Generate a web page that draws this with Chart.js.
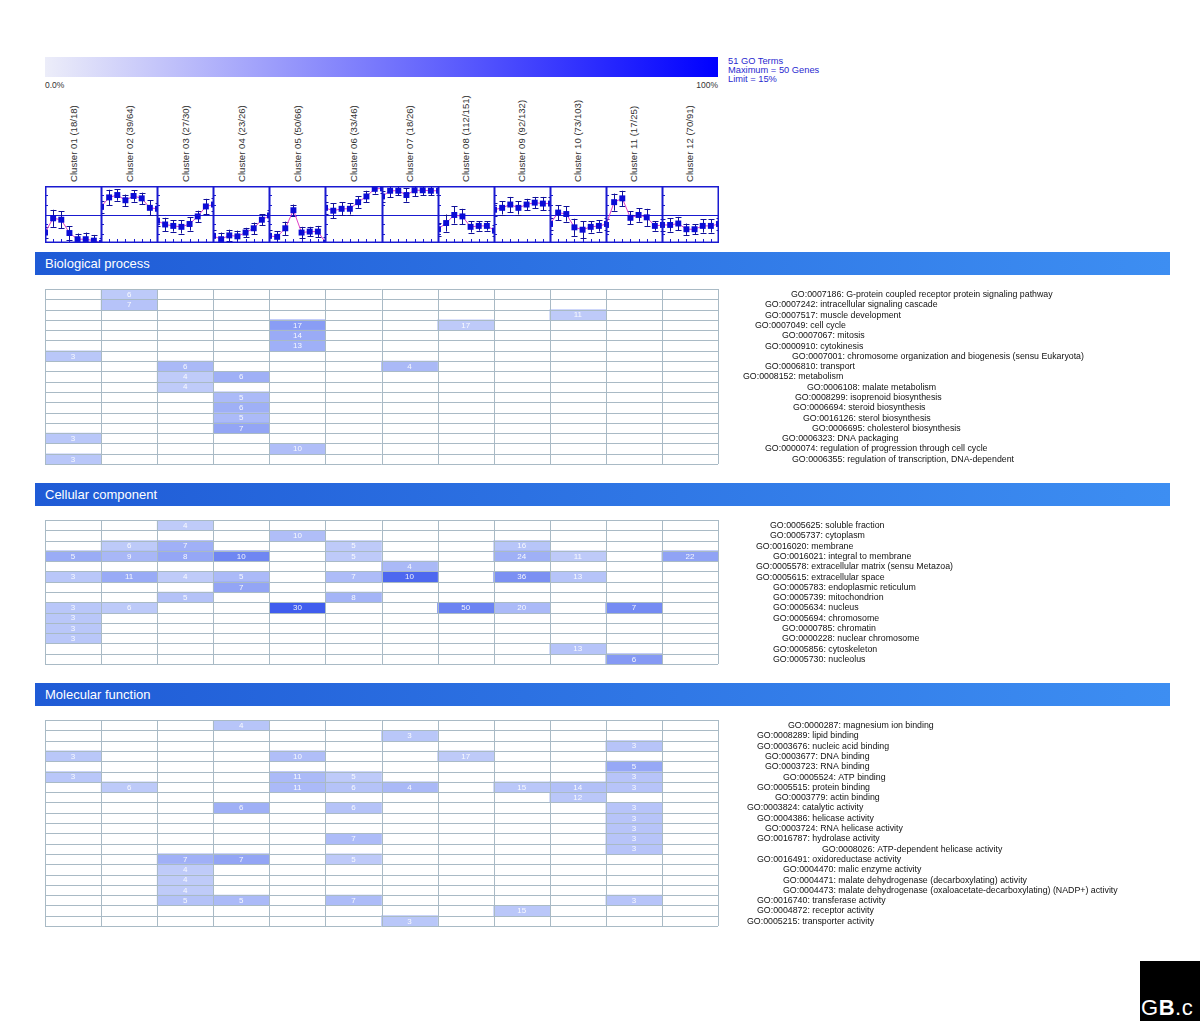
<!DOCTYPE html>
<html><head><meta charset="utf-8">
<script src="https://cdn.jsdelivr.net/npm/chart.js@4.4.1/dist/chart.umd.min.js"></script>
<style>
html,body{margin:0;padding:0;background:#fff;}
#page{position:relative;width:1200px;height:1021px;overflow:hidden;font-family:"Liberation Sans",Arial,sans-serif;background:#fff;}
#page canvas{position:absolute;}
</style></head>
<body><div id="page"></div>
<script>
// ---------------- DATA ----------------
const clusterIds = ["01","02","03","04","05","06","07","08","09","10","11","12"];
const clusterHits = [18,39,27,23,50,33,18,112,92,73,17,70];
const clusterTotals = [18,64,30,26,66,46,26,151,132,103,25,91];
const timePoints = [0,1,2,3,4,5,6,7];
const profileMeans = [
  [-1.9,-0.4,-0.55,-1.95,-2.6,-2.6,-2.75,-3.0],
  [0.8,1.8,2.05,1.5,1.95,1.7,0.7,0.6],
  [-0.65,-1.05,-1.2,-1.3,-1.0,-0.2,0.85,1.05],
  [-2.25,-2.6,-2.2,-2.3,-1.9,-1.45,-0.55,-0.1],
  [-2.25,-2.35,-1.45,0.45,-1.9,-1.8,-1.8,-3.0],
  [0.7,0.4,0.6,0.6,1.3,1.9,2.7,2.75],
  [1.9,2.5,2.5,2.05,2.55,2.55,2.5,2.5],
  [-1.55,-0.9,-0.05,-0.2,-1.3,-1.2,-1.2,-1.7],
  [0.5,0.7,1.05,0.7,1.05,1.25,1.15,1.15],
  [-1.0,0.2,0.05,-1.35,-1.6,-1.3,-1.2,-1.0],
  [-1.1,1.3,1.7,-0.35,-0.05,-0.3,-1.2,-1.1],
  [-1.1,-1.1,-0.95,-1.55,-1.55,-1.2,-1.2,-1.0]
];
const profileErrors = [
  [0.6,0.9,0.9,0.7,0.6,0.7,0.6,0.5],
  [0.6,0.8,0.6,0.6,0.6,0.6,0.8,0.6],
  [0.6,0.7,0.6,0.7,0.7,0.6,0.8,0.7],
  [0.6,0.7,0.6,0.6,0.5,0.6,0.6,0.6],
  [0.6,0.6,0.7,0.6,0.6,0.5,0.6,0.6],
  [0.6,0.8,0.7,0.6,0.6,0.6,0.5,0.5],
  [0.6,0.7,0.5,0.7,0.6,0.5,0.5,0.5],
  [0.7,0.9,0.9,0.8,0.6,0.5,0.5,0.6],
  [0.7,0.7,0.8,0.7,0.6,0.6,0.7,0.7],
  [0.6,0.8,0.8,0.9,0.9,0.6,0.6,0.6],
  [0.6,0.9,0.8,0.7,0.7,0.9,0.5,0.6],
  [0.6,0.7,0.7,0.6,0.5,0.7,0.7,0.6]
];
const legendLines = ["51 GO Terms","Maximum = 50 Genes","Limit = 15%"];
const scaleLabels = ["0.0%","100%"];
const sectionTitles = ["Biological process","Cellular component","Molecular function"];

const bpTerms = [
  "GO:0007186: G-protein coupled receptor protein signaling pathway",
  "GO:0007242: intracellular signaling cascade",
  "GO:0007517: muscle development",
  "GO:0007049: cell cycle",
  "GO:0007067: mitosis",
  "GO:0000910: cytokinesis",
  "GO:0007001: chromosome organization and biogenesis (sensu Eukaryota)",
  "GO:0006810: transport",
  "GO:0008152: metabolism",
  "GO:0006108: malate metabolism",
  "GO:0008299: isoprenoid biosynthesis",
  "GO:0006694: steroid biosynthesis",
  "GO:0016126: sterol biosynthesis",
  "GO:0006695: cholesterol biosynthesis",
  "GO:0006323: DNA packaging",
  "GO:0000074: regulation of progression through cell cycle",
  "GO:0006355: regulation of transcription, DNA-dependent"
];
const bpCounts = [
  [0,6,0,0,0,0,0,0,0,0,0,0],
  [0,7,0,0,0,0,0,0,0,0,0,0],
  [0,0,0,0,0,0,0,0,0,11,0,0],
  [0,0,0,0,17,0,0,17,0,0,0,0],
  [0,0,0,0,14,0,0,0,0,0,0,0],
  [0,0,0,0,13,0,0,0,0,0,0,0],
  [3,0,0,0,0,0,0,0,0,0,0,0],
  [0,0,6,0,0,0,4,0,0,0,0,0],
  [0,0,4,6,0,0,0,0,0,0,0,0],
  [0,0,4,0,0,0,0,0,0,0,0,0],
  [0,0,0,5,0,0,0,0,0,0,0,0],
  [0,0,0,6,0,0,0,0,0,0,0,0],
  [0,0,0,5,0,0,0,0,0,0,0,0],
  [0,0,0,7,0,0,0,0,0,0,0,0],
  [3,0,0,0,0,0,0,0,0,0,0,0],
  [0,0,0,0,10,0,0,0,0,0,0,0],
  [3,0,0,0,0,0,0,0,0,0,0,0]
];
const ccTerms = [
  "GO:0005625: soluble fraction",
  "GO:0005737: cytoplasm",
  "GO:0016020: membrane",
  "GO:0016021: integral to membrane",
  "GO:0005578: extracellular matrix (sensu Metazoa)",
  "GO:0005615: extracellular space",
  "GO:0005783: endoplasmic reticulum",
  "GO:0005739: mitochondrion",
  "GO:0005634: nucleus",
  "GO:0005694: chromosome",
  "GO:0000785: chromatin",
  "GO:0000228: nuclear chromosome",
  "GO:0005856: cytoskeleton",
  "GO:0005730: nucleolus"
];
const ccCounts = [
  [0,0,4,0,0,0,0,0,0,0,0,0],
  [0,0,0,0,10,0,0,0,0,0,0,0],
  [0,6,7,0,0,5,0,0,16,0,0,0],
  [5,9,8,10,0,5,0,0,24,11,0,22],
  [0,0,0,0,0,0,4,0,0,0,0,0],
  [3,11,4,5,0,7,10,0,36,13,0,0],
  [0,0,0,7,0,0,0,0,0,0,0,0],
  [0,0,5,0,0,8,0,0,0,0,0,0],
  [3,6,0,0,30,0,0,50,20,0,7,0],
  [3,0,0,0,0,0,0,0,0,0,0,0],
  [3,0,0,0,0,0,0,0,0,0,0,0],
  [3,0,0,0,0,0,0,0,0,0,0,0],
  [0,0,0,0,0,0,0,0,0,13,0,0],
  [0,0,0,0,0,0,0,0,0,0,6,0]
];
const mfTerms = [
  "GO:0000287: magnesium ion binding",
  "GO:0008289: lipid binding",
  "GO:0003676: nucleic acid binding",
  "GO:0003677: DNA binding",
  "GO:0003723: RNA binding",
  "GO:0005524: ATP binding",
  "GO:0005515: protein binding",
  "GO:0003779: actin binding",
  "GO:0003824: catalytic activity",
  "GO:0004386: helicase activity",
  "GO:0003724: RNA helicase activity",
  "GO:0016787: hydrolase activity",
  "GO:0008026: ATP-dependent helicase activity",
  "GO:0016491: oxidoreductase activity",
  "GO:0004470: malic enzyme activity",
  "GO:0004471: malate dehydrogenase (decarboxylating) activity",
  "GO:0004473: malate dehydrogenase (oxaloacetate-decarboxylating) (NADP+) activity",
  "GO:0016740: transferase activity",
  "GO:0004872: receptor activity",
  "GO:0005215: transporter activity"
];
const mfCounts = [
  [0,0,0,4,0,0,0,0,0,0,0,0],
  [0,0,0,0,0,0,3,0,0,0,0,0],
  [0,0,0,0,0,0,0,0,0,0,3,0],
  [3,0,0,0,10,0,0,17,0,0,0,0],
  [0,0,0,0,0,0,0,0,0,0,5,0],
  [3,0,0,0,11,5,0,0,0,0,3,0],
  [0,6,0,0,11,6,4,0,15,14,3,0],
  [0,0,0,0,0,0,0,0,0,12,0,0],
  [0,0,0,6,0,6,0,0,0,0,3,0],
  [0,0,0,0,0,0,0,0,0,0,3,0],
  [0,0,0,0,0,0,0,0,0,0,3,0],
  [0,0,0,0,0,7,0,0,0,0,3,0],
  [0,0,0,0,0,0,0,0,0,0,3,0],
  [0,0,7,7,0,5,0,0,0,0,0,0],
  [0,0,4,0,0,0,0,0,0,0,0,0],
  [0,0,4,0,0,0,0,0,0,0,0,0],
  [0,0,4,0,0,0,0,0,0,0,0,0],
  [0,0,5,5,0,7,0,0,0,0,3,0],
  [0,0,0,0,0,0,0,0,15,0,0,0],
  [0,0,0,0,0,0,3,0,0,0,0,0]
];

// ---------------- LAYOUT (positions / styles) ----------------
const bpLabelX = [791,765,765,755,782,765,792,765,743,807,795,793,803,812,782,765,792];
const ccLabelX = [770,770,756,773,756,756,773,773,773,773,782,782,773,773];
const mfLabelX = [788,757,757,765,765,783,757,775,747,757,765,757,822,757,783,783,783,757,757,747];
const GRID_L = 45, GRID_R = 718, ROW_H = 10.3;
const FONT = '"Liberation Sans", Arial, sans-serif';
const page = document.getElementById('page');
function el(tag, css, text){ const e=document.createElement(tag); e.style.cssText='position:absolute;'+css; if(text!=null) e.textContent=text; page.appendChild(e); return e; }
function colX(k){ return GRID_L + k*(GRID_R-GRID_L)/12; }

// legend gradient
el('div','left:45px;top:57px;width:673px;height:20px;background:linear-gradient(to right,#ecedf9,#0000ff);');
el('div','left:45px;top:80px;font-size:8.5px;color:#333;white-space:nowrap;', scaleLabels[0]);
el('div','left:658px;top:80px;width:60px;text-align:right;font-size:8.5px;color:#333;white-space:nowrap;', scaleLabels[1]);
legendLines.forEach((t,i)=>el('div','left:728px;top:'+(56.5+i*9.2)+'px;font-size:9.3px;line-height:9.2px;color:#2a2ad0;white-space:nowrap;', t));

// cluster labels
clusterIds.forEach((id,k)=>{
  const cx = (colX(k)+colX(k+1))/2;
  el('div','left:'+(cx-5.5)+'px;top:182px;transform-origin:0 0;transform:rotate(-90deg);font-size:9.6px;line-height:11px;color:#333;white-space:nowrap;',
     'Cluster '+id+' ('+clusterHits[k]+'/'+clusterTotals[k]+')');
});

// section headers
const headerTops = [252,483,683];
sectionTitles.forEach((t,i)=>{
  el('div','left:35px;top:'+headerTops[i]+'px;width:1135px;height:23px;background:linear-gradient(to right,#1f5bd6,#3d8ef2);color:#fff;font-size:13px;line-height:23px;padding-left:10px;box-sizing:border-box;white-space:nowrap;', t);
});

// logo
const logo = el('div','left:1140px;top:961px;width:60px;height:60px;background:#000;overflow:hidden;');
logo.innerHTML = '<span style="position:absolute;left:1px;top:36px;color:#fff;font-size:22px;line-height:22px;font-family:\'Liberation Sans\',Arial,sans-serif;letter-spacing:0.5px;white-space:nowrap;">G<b>B</b>.c</span>';

// ---------------- MINI PROFILE CHARTS ----------------
const miniFrame = {
  id:'miniFrame',
  beforeDatasetsDraw(chart){
    const {ctx, chartArea:a, scales:{x,y}} = chart;
    ctx.save();
    ctx.strokeStyle='#1a1ad0'; ctx.lineWidth=1;
    const y0 = Math.round(y.getPixelForValue(0))+0.5;
    ctx.beginPath(); ctx.moveTo(a.left,y0); ctx.lineTo(a.right,y0); ctx.stroke();
    [-2,-1,1,2].forEach(v=>{ const py=Math.round(y.getPixelForValue(v))+0.5; ctx.beginPath(); ctx.moveTo(a.left,py); ctx.lineTo(a.left+3,py); ctx.stroke(); });
    for(let t=1;t<7;t++){ const px=Math.round(x.getPixelForValue(t))+0.5; ctx.beginPath(); ctx.moveTo(px,a.bottom); ctx.lineTo(px,a.bottom-4); ctx.stroke(); }
    const ds = chart.data.datasets[0];
    ctx.strokeStyle='#10109a';
    ds.data.forEach((p,i)=>{
      const e = ds.errors[i];
      const px = Math.round(x.getPixelForValue(p.x))+0.5;
      const yt = y.getPixelForValue(p.y+e), yb = y.getPixelForValue(p.y-e);
      ctx.beginPath(); ctx.moveTo(px,yt); ctx.lineTo(px,yb);
      ctx.moveTo(px-3,Math.round(yt)+0.5); ctx.lineTo(px+3,Math.round(yt)+0.5);
      ctx.moveTo(px-3,Math.round(yb)+0.5); ctx.lineTo(px+3,Math.round(yb)+0.5);
      ctx.stroke();
    });
    ctx.restore();
  },
  afterDatasetsDraw(chart){
    const {ctx, chartArea:a} = chart;
    ctx.save(); ctx.strokeStyle='#1a1ad0'; ctx.lineWidth=1.5;
    ctx.strokeRect(a.left+0.75,a.top+0.75,a.right-a.left-1.5,a.bottom-a.top-1.5);
    ctx.restore();
  }
};
clusterIds.forEach((id,k)=>{
  const L = Math.round(colX(k)), R = Math.round(colX(k+1));
  const c = document.createElement('canvas');
  c.width = R-L+1; c.height = 57;
  c.style.left = L+'px'; c.style.top = '186px';
  c.style.width = (R-L+1)+'px'; c.style.height = '57px';
  page.appendChild(c);
  new Chart(c,{
    type:'line',
    data:{datasets:[{
      data: timePoints.map((t,i)=>({x:t,y:profileMeans[k][i]})),
      errors: profileErrors[k],
      borderColor:'#e040c8', borderWidth:1, tension:0,
      pointStyle:'rect', pointRadius:4.2, pointBackgroundColor:'#0b0bd6', pointBorderColor:'#0b0bd6', pointBorderWidth:0,
      clip:0
    }]},
    options:{responsive:false, animation:false, events:[], devicePixelRatio:1,
      layout:{padding:0, autoPadding:false},
      plugins:{legend:{display:false}, tooltip:{enabled:false}},
      scales:{x:{type:'linear',min:0,max:7,display:false}, y:{type:'linear',min:-3,max:3,display:false}}},
    plugins:[miniFrame]
  });
});

// ---------------- HEATMAPS ----------------
function cellColor(p){
  const t = Math.min(1, p/0.68);
  const a=[232,239,253], b=[42,74,236];
  return 'rgb('+a.map((v,i)=>Math.round(v+(b[i]-v)*t)).join(',')+')';
}
const heatPlugin = {
  id:'heatPlugin',
  afterDatasetsDraw(chart){
    const {ctx, chartArea:a, scales:{x,y}} = chart;
    const cfg = chart.config.options.plugins.heatPlugin;
    const n = chart.data.labels.length;
    ctx.save();
    ctx.strokeStyle='#a9bac5'; ctx.lineWidth=1;
    ctx.beginPath();
    for(let k=0;k<=12;k++){ const px=Math.round(x.getPixelForValue(k))+0.5; ctx.moveTo(px,a.top); ctx.lineTo(px,a.bottom); }
    for(let i=0;i<=n;i++){ const py=Math.round(y.getPixelForValue(i-0.5))+0.5; ctx.moveTo(a.left,py); ctx.lineTo(a.right,py); }
    ctx.stroke();
    ctx.font='8px '+FONT; ctx.textAlign='center'; ctx.textBaseline='middle'; ctx.fillStyle='rgba(255,255,255,0.9)';
    cfg.counts.forEach((row,i)=>row.forEach((v,k)=>{ if(v>0) ctx.fillText(String(v), x.getPixelForValue(k+0.5), y.getPixelForValue(i)+0.5); }));
    ctx.font='8.8px '+FONT; ctx.textAlign='left'; ctx.fillStyle='#111';
    chart.data.labels.forEach((t,i)=>ctx.fillText(t, cfg.labelX[i], y.getPixelForValue(i)+0.5));
    ctx.restore();
  }
};
function heatmap(top, terms, counts, labelX){
  const H = Math.round(terms.length*ROW_H)+4;
  const c = document.createElement('canvas');
  c.width = 1200; c.height = H; c.style.left='0px'; c.style.top=(top-2)+'px';
  c.style.width='1200px'; c.style.height=H+'px';
  page.appendChild(c);
  new Chart(c,{
    type:'bar',
    data:{labels:terms, datasets: clusterIds.map((id,k)=>({
      label:'Cluster '+id,
      data: counts.map(r=> r[k]>0 ? [k,k+1] : null),
      backgroundColor: counts.map(r=> cellColor(r[k]/clusterHits[k])),
      borderWidth:0, barPercentage:1, categoryPercentage:1, grouped:false
    }))},
    options:{indexAxis:'y', responsive:false, animation:false, events:[], devicePixelRatio:1,
      layout:{padding:{left:GRID_L, right:1200-GRID_R, top:2, bottom:2}, autoPadding:false},
      plugins:{legend:{display:false}, tooltip:{enabled:false}, heatPlugin:{counts, labelX}},
      scales:{x:{type:'linear',min:0,max:12,display:false}, y:{type:'category',display:false,offset:true}}},
    plugins:[heatPlugin]
  });
}
heatmap(289, bpTerms, bpCounts, bpLabelX);
heatmap(520, ccTerms, ccCounts, ccLabelX);
heatmap(720, mfTerms, mfCounts, mfLabelX);
</script>
</body></html>
